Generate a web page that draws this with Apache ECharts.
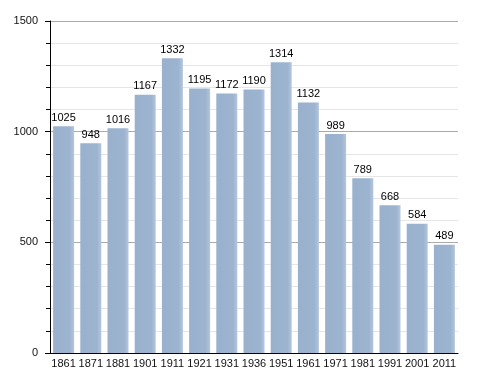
<!DOCTYPE html>
<html><head><meta charset="utf-8">
<script src="https://cdn.jsdelivr.net/npm/echarts@6/dist/echarts.min.js"></script>
<style>html,body{margin:0;padding:0;background:#fff}#c{width:488px;height:373px}</style>
</head><body><div id="c"></div>
<script>
const years = ['1861','1871','1881','1901','1911','1921','1931','1936','1951','1961','1971','1981','1991','2001','2011'];
const population = [1025,948,1016,1167,1332,1195,1172,1190,1314,1132,989,789,668,584,489];
const yTicks = [0,500,1000,1500];

const chart = echarts.init(document.getElementById('c'));
chart.setOption({
  animation:false,
  grid:{left:50,right:30,top:21,bottom:20},
  xAxis:{type:'category',data:years,
    axisLine:{lineStyle:{color:'#000',width:1}},
    axisTick:{show:false},
    axisLabel:{color:'#111',fontSize:11,fontFamily:'Liberation Sans, Arial',margin:5,interval:0}},
  yAxis:{type:'value',min:yTicks[0],max:yTicks[yTicks.length-1],interval:500,
    axisLine:{show:true,lineStyle:{color:'#000',width:1}},
    axisTick:{show:true,inside:false,length:5,lineStyle:{color:'#000'}},
    minorTick:{show:true,splitNumber:5,length:4,lineStyle:{color:'#000'}},
    splitLine:{show:true,lineStyle:{color:'#aaaaaa',width:1}},
    minorSplitLine:{show:true,lineStyle:{color:'#e6e6e6',width:1}},
    axisLabel:{color:'#111',fontSize:11,fontFamily:'Liberation Sans, Arial',margin:12,formatter:v=>String(v)}},
  series:[{type:'bar',data:population,barWidth:21,
    itemStyle:{color:new echarts.graphic.LinearGradient(0,0,1,0,[
      {offset:0,color:'#9ab1ce'},{offset:0.8,color:'#9db4d0'},{offset:1,color:'#b4c6dc'}])},
    label:{show:true,position:'top',distance:3,color:'#000',fontSize:11,fontFamily:'Liberation Sans, Arial'}}]
});
</script></body></html>
